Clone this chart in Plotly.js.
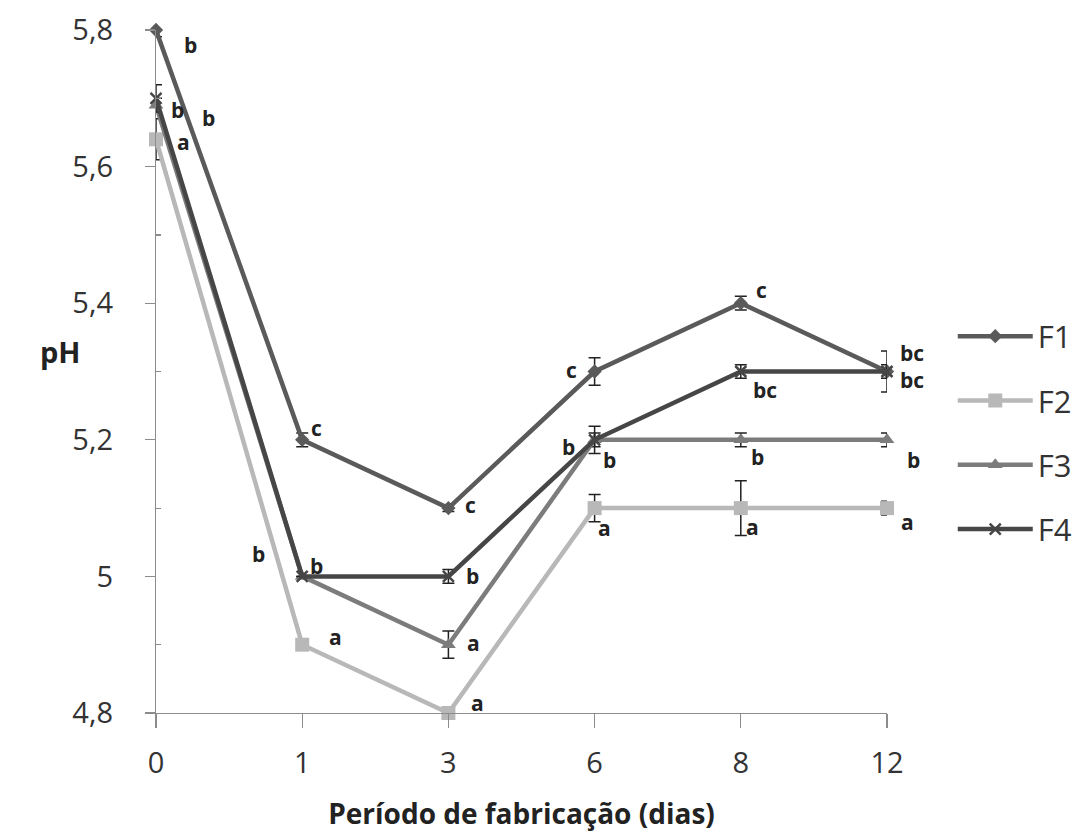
<!DOCTYPE html>
<html>
<head>
<meta charset="utf-8">
<script src="https://cdn.plot.ly/plotly-3.0.1.min.js"></script>
<style>html,body{margin:0;padding:0;background:#fff;}#chart{width:1079px;height:832px;}</style>
</head>
<body>
<div id="chart"></div>
<script>
// ---- data ----
const categories = ['0', '1', '3', '6', '8', '12'];
const seriesNames = ['F1', 'F2', 'F3', 'F4'];

const F1 = [5.80, 5.20, 5.10, 5.30, 5.40, 5.30];
const F2 = [5.64, 4.90, 4.80, 5.10, 5.10, 5.10];
const F3 = [5.69, 5.00, 4.90, 5.20, 5.20, 5.20];
const F4 = [5.70, 5.00, 5.00, 5.20, 5.30, 5.30];

const F1err = [0.01, 0.01, 0.005, 0.02, 0.01, 0.03];
const F2err = [0.03, 0.00, 0.00, 0.02, 0.04, 0.01];
const F3err = [0.01, 0.00, 0.02, 0.01, 0.01, 0.01];
const F4err = [0.02, 0.00, 0.01, 0.02, 0.01, 0.01];

const F1letters = ['b', 'c', 'c', 'c', 'c', 'bc'];
const F2letters = ['a', 'a', 'a', 'a', 'a', 'a'];
const F3letters = ['b', 'b', 'a', 'b', 'b', 'b'];
const F4letters = ['b', 'b', 'b', 'b', 'bc', 'bc'];

const yTickVals = [4.8, 5.0, 5.2, 5.4, 5.6, 5.8];
const yTickText = ['4,8', '5', '5,2', '5,4', '5,6', '5,8'];
const yMinorVals = [4.9, 5.1, 5.3, 5.5, 5.7];

// ---- styles (not data) ----
const values = [F1, F2, F3, F4];
const errs = [F1err, F2err, F3err, F4err];
const letters = [F1letters, F2letters, F3letters, F4letters];
const colors = ['#5a5a5a', '#b8b8b8', '#7c7c7c', '#464646'];
const symbols = ['diamond', 'square', 'triangle-up', 'x-thin-open'];
const msizes = [11, 14, 13, 11];
// label pixel offsets [xshift, yshift] per series per point
const labelShift = [
  [[34, -15], [14, 12], [22, 3], [-23, 2], [21, 13], [25, 19]],
  [[27, -3], [33, 8], [29, 10], [10, -20], [12, -19], [20, -14]],
  [[52, -13], [-44, 22], [25, 2], [15, -20], [17, -17], [26, -20]],
  [[21, -12], [14, 10], [24, 0], [-26, -7], [24, -18], [25, -8]]
];

const xIdx = categories.map((c, i) => i);
const FONT = 'Open Sans, Noto Sans, sans-serif';

const traces = seriesNames.map((name, s) => ({
  type: 'scatter',
  mode: 'lines+markers',
  name: name,
  legendgroup: name,
  x: xIdx,
  y: values[s],
  cliponaxis: false,
  line: {color: colors[s], width: 4.5},
  marker: {
    symbol: symbols[s], size: msizes[s], color: colors[s],
    line: {color: colors[s], width: s === 3 ? 2.5 : 0}
  },
  error_y: {type: 'data', array: errs[s], visible: true, color: '#222', thickness: 1.5, width: 6}
}));

const annotations = [];
seriesNames.forEach((name, s) => {
  letters[s].forEach((t, i) => {
    annotations.push({
      x: xIdx[i], y: values[s][i], xref: 'x', yref: 'y',
      text: '<b>' + t + '</b>', showarrow: false,
      xshift: labelShift[s][i][0], yshift: labelShift[s][i][1],
      font: {family: FONT, size: 21, color: '#222'}
    });
  });
});
annotations.push({
  xref: 'paper', yref: 'paper', x: -0.162, y: 0.529,
  text: '<b>pH</b>', showarrow: false,
  font: {family: FONT, size: 29, color: '#222'}
});

const layout = {
  width: 1079, height: 832,
  margin: {l: 156, r: 192, t: 30, b: 119},
  paper_bgcolor: '#fff', plot_bgcolor: '#fff',
  font: {family: FONT, color: '#333'},
  xaxis: {
    range: [0, 5], tickmode: 'array', tickvals: xIdx, ticktext: categories,
    showgrid: false, zeroline: false, showline: true, linecolor: '#8c8c8c', linewidth: 1.2,
    ticks: 'outside', ticklen: 14, tickcolor: '#8c8c8c', tickwidth: 1.2,
    ticklabelstandoff: 10,
    tickfont: {family: FONT, size: 29, color: '#333'},
    title: {text: '<b>Período de fabricação (dias)</b>', standoff: 28,
            font: {family: FONT, size: 28, color: '#222'}}
  },
  yaxis: {
    range: [4.8, 5.8], tickmode: 'array', tickvals: yTickVals, ticktext: yTickText,
    showgrid: false, zeroline: false, showline: true, linecolor: '#8c8c8c', linewidth: 1.2,
    ticks: 'outside', ticklen: 10, tickcolor: '#8c8c8c', tickwidth: 1.2,
    ticklabelstandoff: 26,
    tickfont: {family: FONT, size: 29, color: '#333'},
    minor: {tickmode: 'array', tickvals: yMinorVals, ticks: 'inside', ticklen: 5, tickcolor: '#8c8c8c', tickwidth: 1.2, showgrid: false}
  },
  showlegend: true,
  legend: {
    xref: 'container', yref: 'container', x: 0.883, y: 0.628, xanchor: 'left', yanchor: 'top',
    font: {family: FONT, size: 31, color: '#333'},
    tracegroupgap: 21, itemwidth: 75, bgcolor: 'rgba(0,0,0,0)'
  },
  annotations: annotations
};

Plotly.newPlot('chart', traces, layout, {displayModeBar: false, staticPlot: true});
</script>
</body>
</html>
